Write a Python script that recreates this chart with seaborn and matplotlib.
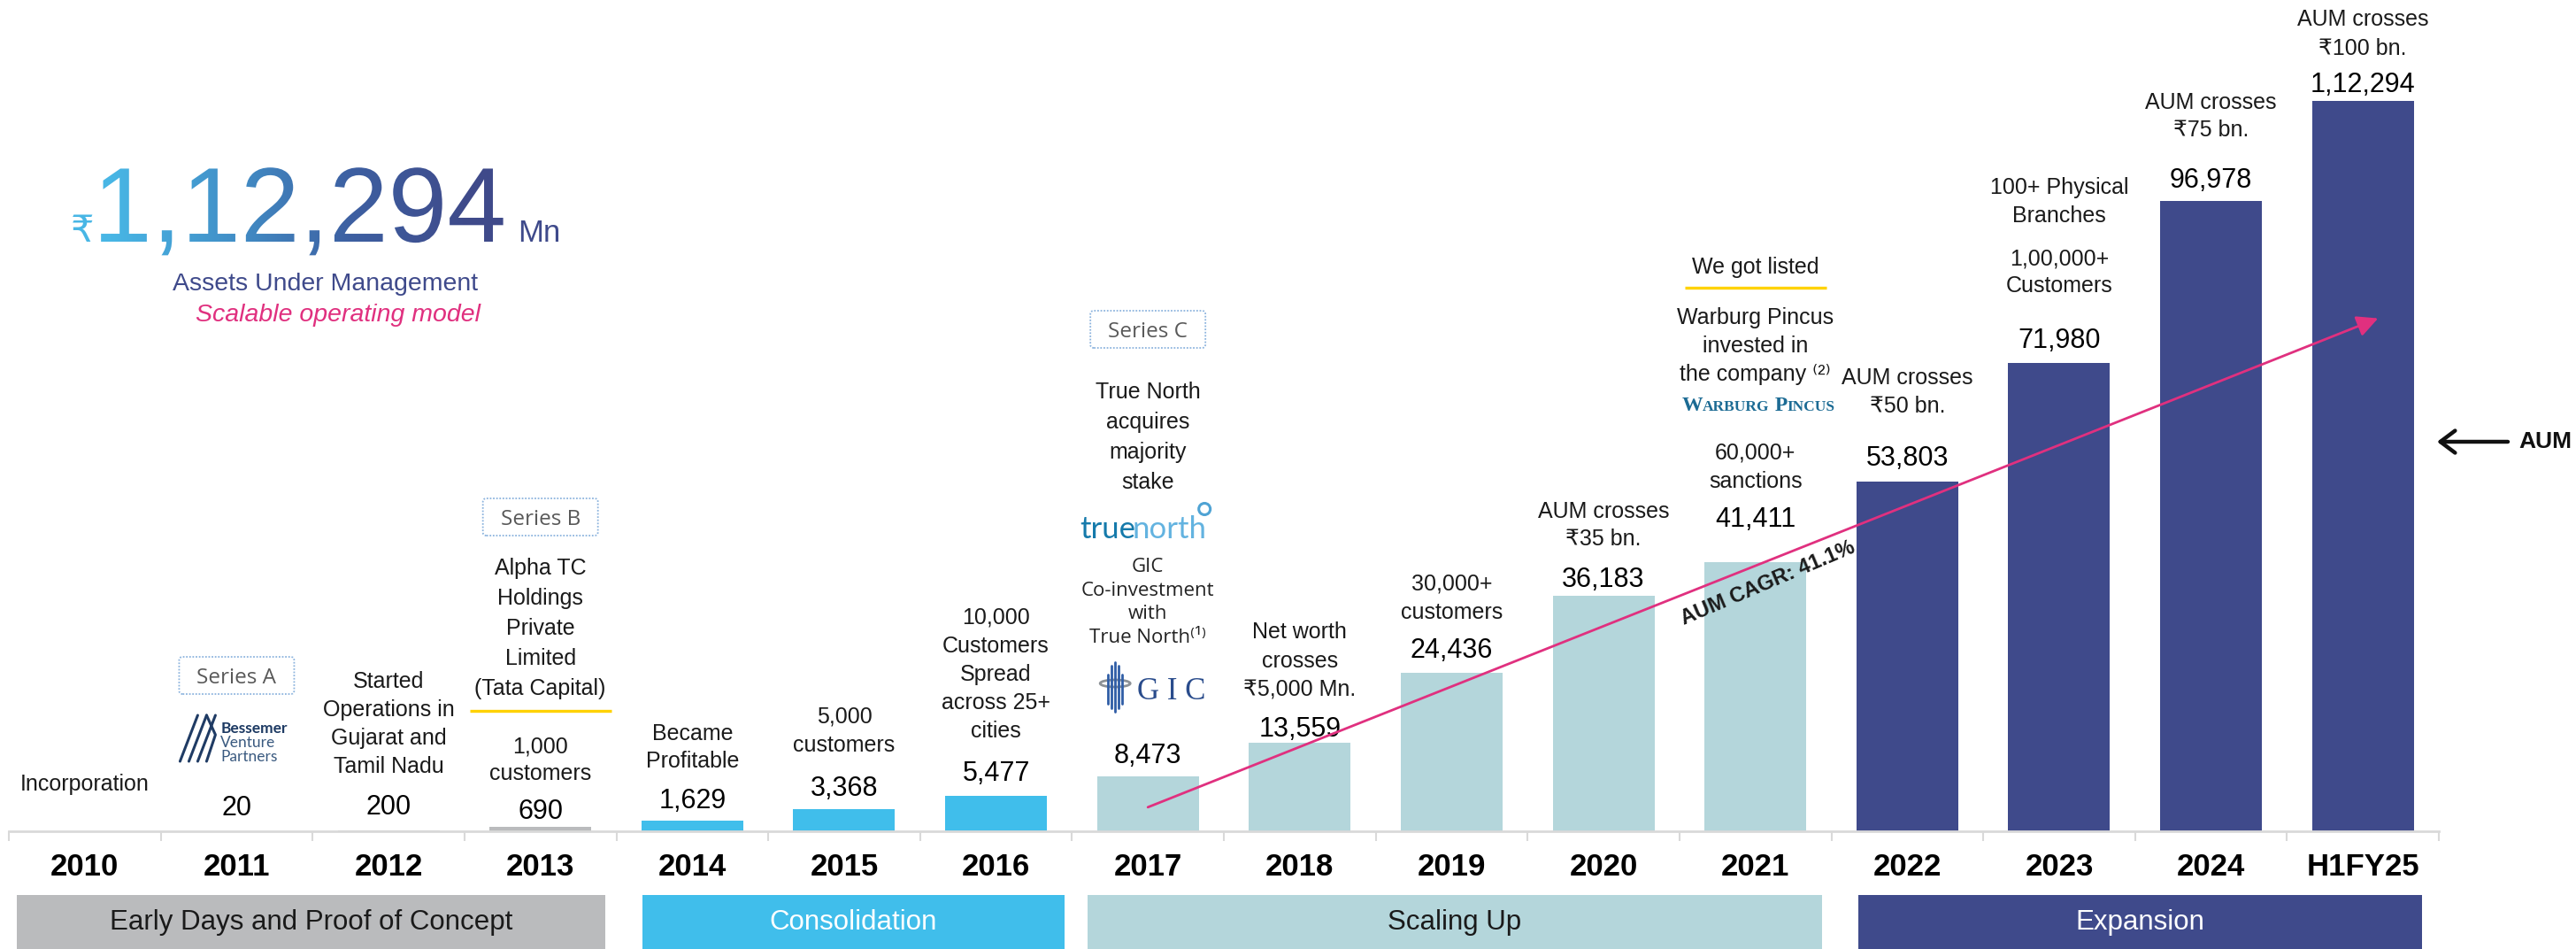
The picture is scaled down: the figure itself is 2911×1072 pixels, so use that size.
import numpy as np
import pandas as pd
import matplotlib
matplotlib.use("Agg")
import matplotlib.pyplot as plt
import matplotlib.transforms as mtransforms
from matplotlib.patches import Rectangle, PathPatch, Circle, Ellipse, FancyBboxPatch
from matplotlib.textpath import TextPath
from matplotlib.font_manager import FontProperties
from matplotlib.colors import LinearSegmentedColormap
from matplotlib.offsetbox import TextArea, HPacker, AnnotationBbox
import seaborn as sns

# ---- data -----------------------------------------------------------------
years = ["2010", "2011", "2012", "2013", "2014", "2015", "2016", "2017",
         "2018", "2019", "2020", "2021", "2022", "2023", "2024", "H1FY25"]
aum_mn = [0, 20, 200, 690, 1629, 3368, 5477, 8473, 13559, 24436, 36183,
          41411, 53803, 71980, 96978, 112294]
aum_text = ["", "20", "200", "690", "1,629", "3,368", "5,477", "8,473",
            "13,559", "24,436", "36,183", "41,411", "53,803", "71,980",
            "96,978", "1,12,294"]

phase_names = ["Early Days and Proof of Concept", "Consolidation",
               "Scaling Up", "Expansion"]
phase_first = [0, 4, 7, 12]
phase_last = [3, 6, 11, 15]

milestone_year = [0, 2, 3, 3, 4, 5, 6, 7, 8, 9, 10, 11, 11, 11, 12, 13, 13, 14, 15]
milestone_text = [
    "Incorporation",
    "Started\nOperations in\nGujarat and\nTamil Nadu",
    "Alpha TC\nHoldings\nPrivate\nLimited\n(Tata Capital)",
    "1,000\ncustomers",
    "Became\nProfitable",
    "5,000\ncustomers",
    "10,000\nCustomers\nSpread\nacross 25+\ncities",
    "True North\nacquires\nmajority\nstake",
    "Net worth\ncrosses\n₹5,000 Mn.",
    "30,000+\ncustomers",
    "AUM crosses\n₹35 bn.",
    "We got listed",
    "Warburg Pincus\ninvested in\nthe company ⁽²⁾",
    "60,000+\nsanctions",
    "AUM crosses\n₹50 bn.",
    "100+ Physical\nBranches",
    "1,00,000+\nCustomers",
    "AUM crosses\n₹75 bn.",
    "AUM crosses\n₹100 bn.",
]
series_year = [1, 3, 7]
series_text = ["Series A", "Series B", "Series C"]
gic_text = "GIC\nCo-investment\nwith\nTrue North⁽¹⁾"
headline = "1,12,294"
cagr_text = "AUM CAGR: 41.1%"

# ---- style ----------------------------------------------------------------
W, H = 2911, 1072
NAVY, SKY, TEAL, GREY = "#3F4A8B", "#40BEEB", "#B4D6DB", "#BABBBD"
PINK, GOLD, INK = "#E0307F", "#FFD200", "#1A1A1A"
phase_colors = [GREY, SKY, TEAL, NAVY]
phase_ink = [INK, "white", INK, "white"]
band_lpad = [0.45, 0.33, 0.40, 0.32]
band_rpad = [0.43, 0.45, 0.44, 0.39]
SANS = ["Liberation Sans", "DejaVu Sans"]
ALT = ["Open Sans", "DejaVu Sans"]
SERIF = ["Liberation Serif", "DejaVu Serif"]

# text block centres (px from top) and line gaps
milestone_y = [884, 816, 708, 857, 843, 824, 760, 492, 745, 674, 592,
               300, 389, 526, 441, 226, 306, 130, 37]
milestone_gap = [32, 32, 34, 31, 31, 32, 32, 34, 33, 32, 31,
                 32, 32, 32, 32, 32, 30, 31, 33]
series_y = [763, 584, 372]
value_pad = [0, 29, 28, 20, 25, 26, 28, 26, 18, 27, 21, 51, 29, 28, 26, 21]

sns.set_theme(style="white")
plt.rcParams["font.family"] = SANS

df = pd.DataFrame({"year": years, "aum": aum_mn})
df["phase"] = [phase_names[next(k for k in range(4) if phase_first[k] <= i <= phase_last[k])]
               for i in range(len(years))]

fig = plt.figure(figsize=(W / 100, H / 100), dpi=100)
ax = fig.add_axes([10 / W, 133 / H, 2746 / W, 939 / H])
sns.barplot(data=df, x="year", y="aum", hue="phase", order=years,
            hue_order=phase_names, palette=dict(zip(phase_names, phase_colors)),
            dodge=False, width=0.67, saturation=1, linewidth=0,
            errorbar=None, legend=False, ax=ax)
ax.set_xlim(-0.5, 15.5)
ax.set_ylim(0, 127860)
ax.patch.set_alpha(0)
for s in ["top", "right", "left"]:
    ax.spines[s].set_visible(False)
ax.spines["bottom"].set_color("#D9D9D9")
ax.spines["bottom"].set_linewidth(2)
ax.set_yticks([])
ax.set_xlabel("")
ax.set_ylabel("")
ax.set_xticks(range(len(years)))
ax.set_xticklabels(years, fontsize=25, fontweight="bold", color="black")
ax.set_xticks(np.arange(-0.5, len(years), 1), minor=True)
ax.tick_params(axis="x", which="major", length=0, pad=17, bottom=True)
ax.tick_params(axis="x", which="minor", length=8, width=1.5,
               color="#D9D9D9", bottom=True, direction="out")

# value labels above bars
for i, (v, s) in enumerate(zip(aum_mn, aum_text)):
    if s:
        em = 22 * 100 / 72
        ax.annotate(s, xy=(i, v), xytext=(0, value_pad[i] - 0.358 * em),
                    textcoords="offset pixels", ha="center", va="baseline",
                    fontsize=22, color="black")

# CAGR arrow
ax.annotate("", xy=(15.1, 78900), xytext=(7.0, 3700),
            arrowprops=dict(arrowstyle="-|>,head_length=0.8,head_width=0.4",
                            color=PINK, lw=2, mutation_scale=18,
                            shrinkA=0, shrinkB=0))
ax.text(11.08, 38150, cagr_text, rotation=23, rotation_mode="anchor",
        ha="center", va="center", fontsize=17, fontweight="bold", color=INK)

# overlay in figure pixels
ov = fig.add_axes([0, 0, 1, 1], zorder=2)
ov.axis("off")
ov.set_xlim(0, W)
ov.set_ylim(0, H)
tr = mtransforms.blended_transform_factory(ax.transData, ov.transData)


def cx(i):
    return ax.transData.transform((i, 0))[0]


def stack(i, text, yc, gap, size=18, family=SANS, color=INK, **kw):
    lines = text.split("\n")
    n = len(lines)
    for k, line in enumerate(lines):
        y = yc + (k - (n - 1) / 2) * gap
        base = H - y - 0.358 * size * 100 / 72
        ov.text(i, base, line, transform=tr, ha="center", va="baseline",
                fontsize=size, family=family, color=color, **kw)


for i, t, y, g in zip(milestone_year, milestone_text, milestone_y, milestone_gap):
    stack(i, t, y, g)

stack(7, gic_text, 678, 26.7, size=16, family=ALT, color="#222222")

# funding round badges
for i, t, y in zip(series_year, series_text, series_y):
    c = cx(i)
    ov.add_patch(FancyBboxPatch((c - 65, H - y - 21), 130, 42,
                                boxstyle="round,pad=0,rounding_size=4",
                                fc="white", ec="#8DB4DE", lw=1.3, ls=(0, (1, 1))))
    ov.text(c, H - y - 0.357 * 17.5 * 100 / 72, t, ha="center", va="baseline",
            fontsize=17.5, family=ALT, color="#595959")

for i, y in [(3, 803), (11, 325)]:
    ov.plot([i - 0.466, i + 0.466], [H - y, H - y], transform=tr,
            color=GOLD, lw=2.4, solid_capstyle="butt")

# Bessemer logo
c = cx(1)
for k in range(3):
    ov.plot([c - 64 + k * 10, c - 44 + k * 10], [H - 860, H - 808],
            color="#1F3B64", lw=2.2)
ov.plot([c - 34, c - 24, c - 34], [H - 808, H - 830, H - 860], color="#1F3B64", lw=2.2)
ov.text(c - 18, H - 828, "Bessemer", family=["Lato"], fontweight="bold",
        fontsize=12.5, color="#1D3A63", va="baseline")
ov.text(c - 18, H - 844, "Venture", family=["Lato"], fontsize=12.5,
        color="#3A5A80", va="baseline")
ov.text(c - 18, H - 860, "Partners", family=["Lato"], fontsize=12.5,
        color="#3A5A80", va="baseline")

# truenorth logo
c = cx(7)
ov.text(c - 14, H - 608, "true", family=["Lato"], fontsize=25,
        color="#157AAB", ha="right", va="baseline")
ov.text(c - 18, H - 608, "north", family=["Lato"], fontsize=25,
        color="#63B3E0", ha="left", va="baseline")
ov.add_patch(Circle((c + 64, H - 575), 6.5, fc="none", ec="#4FA3D4", lw=2.2))

# GIC logo
for dx, (y0, y1) in zip([-45, -41, -37, -33, -29],
                        [(762, 795), (752, 800), (748, 804), (752, 800), (762, 795)]):
    ov.plot([c + dx, c + dx], [H - y1, H - y0], color="#2F5DA6", lw=2)
ov.add_patch(Ellipse((c - 37, H - 772), 34, 8, fc="none", ec="#8C9196", lw=2))
ov.text(c - 12, H - 790, "G I C", family=SERIF, fontsize=25,
        color="#2A4C8C", va="baseline")

# Warburg Pincus logo
parts = [("W", 17), ("ARBURG", 12.5), (" P", 17), ("INCUS", 12.5)]
wp = HPacker(children=[TextArea(t, textprops=dict(fontsize=s, family=SERIF,
                                                  color="#1C6B94", fontweight="bold"))
                       for t, s in parts], align="baseline", pad=0, sep=0)
ov.add_artist(AnnotationBbox(wp, (11.02, H - 459), xycoords=tr, frameon=False,
                             box_alignment=(0.5, 0.5), pad=0))

# phase bands
for k, name in enumerate(phase_names):
    x0 = phase_first[k] - band_lpad[k]
    x1 = phase_last[k] + band_rpad[k]
    ov.add_patch(Rectangle((x0, 0), x1 - x0, 61, transform=tr,
                           fc=phase_colors[k], ec="none"))
    ov.text((x0 + x1) / 2, 30, name, transform=tr, ha="center", va="center",
            fontsize=22.5, color=phase_ink[k])

# AUM pointer on the right
ov.annotate("", xy=(2754, H - 499), xytext=(2834, H - 499),
            arrowprops=dict(arrowstyle="->,head_length=0.6,head_width=0.45",
                            lw=3.2, color="#111111", mutation_scale=20,
                            shrinkA=0, shrinkB=0))
ov.text(2846, H - 499, "AUM", fontsize=19, fontweight="bold", color="#111111",
        ha="left", va="center")

# headline figure with colour gradient
tp = TextPath((105, H - 273), headline, size=120,
              prop=FontProperties(family="Liberation Sans"))
clip = PathPatch(tp, fc="none", ec="none")
ov.add_patch(clip)
xs = np.linspace(100, 590, 400)
grad = np.clip((xs - 125) / (530 - 125), 0, 1).reshape(1, -1)
cmap = LinearSegmentedColormap.from_list("aum", ["#48B6E5", "#4290C8", "#3D60A2", "#3F4A8A"])
im = ov.imshow(grad, cmap=cmap, extent=(100, 590, H - 300, H - 170),
               aspect="auto", origin="lower", vmin=0, vmax=1, zorder=3)
im.set_clip_path(clip)
ov.text(80, H - 273, "₹", fontsize=30, color="#48B6E5", ha="left", va="baseline")
ov.text(585, H - 273, "Mn", fontsize=25, color=NAVY, ha="left", va="baseline")
ov.text(368, H - 328, "Assets Under Management", fontsize=20.5, color=NAVY,
        ha="center", va="baseline")
ov.text(382, H - 363, "Scalable operating model", fontsize=20.5, color=PINK,
        style="italic", ha="center", va="baseline")

ov.set_xlim(0, W)
ov.set_ylim(0, H)

fig.savefig("out.png", dpi=100)
